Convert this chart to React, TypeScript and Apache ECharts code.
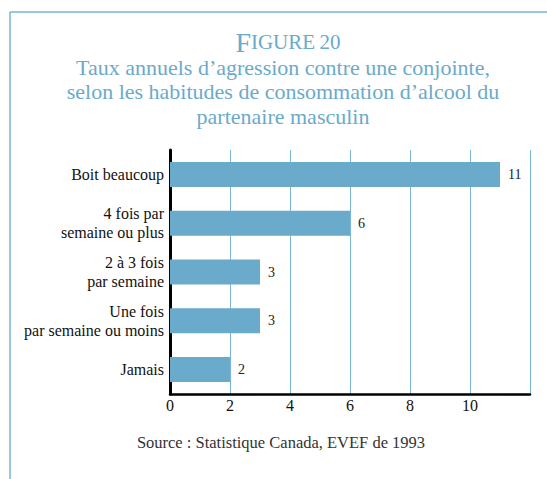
import React, { useEffect, useRef } from "react";
import * as echarts from "echarts";

const categories = [
  "Boit beaucoup",
  "4 fois par\nsemaine ou plus",
  "2 à 3 fois\npar semaine",
  "Une fois\npar semaine ou moins",
  "Jamais",
];
const values = [11, 6, 3, 3, 2];
const titleLines = [
  "Taux annuels d’agression contre une conjointe,",
  "selon les habitudes de consommation d’alcool du",
  "partenaire masculin",
];
const sourceText = "Source : Statistique Canada, EVEF de 1993";

const SERIF = "Liberation Serif, Times New Roman, serif";
const BLUE = "#6aaacb";
const LINE_BLUE = "#7ab4d6";

export default function App() {
  const ref = useRef<HTMLDivElement>(null);
  useEffect(() => {
    if (!ref.current) return;
    const chart = echarts.init(ref.current, null, { renderer: "svg" });
    chart.setOption({
      animation: false,
      backgroundColor: "#ffffff",
      textStyle: { fontFamily: SERIF },
      title: {
        left: 283,
        top: 23,
        textAlign: "center",
        text: "{a|F}{b|IGURE} {c|20}",
        textStyle: {
          fontFamily: SERIF,
          fontWeight: "normal",
          rich: {
            a: { fontFamily: SERIF, fontWeight: "normal", fontSize: 28, color: "#6aaacb" },
            b: { fontFamily: SERIF, fontWeight: "normal", fontSize: 21, color: "#6aaacb" },
            c: { fontFamily: SERIF, fontWeight: "normal", fontSize: 21, color: "#6aaacb" },
          },
        },
      },
      graphic: [
        {
          type: "line",
          shape: { x1: 10, y1: 12, x2: 547, y2: 12 },
          style: { stroke: LINE_BLUE, lineWidth: 1.5 },
        },
        {
          type: "line",
          shape: { x1: 10, y1: 12, x2: 10, y2: 479 },
          style: { stroke: LINE_BLUE, lineWidth: 1.5 },
        },
        {
          type: "text",
          x: 283,
          y: 55,
          style: {
            text: titleLines.join("\n"),
            align: "center",
            verticalAlign: "top",
            fontFamily: SERIF,
            fontSize: 22,
            lineHeight: 24.5,
            fill: "#6aaacb",
          },
        },
        {
          type: "text",
          x: 281,
          y: 442,
          style: {
            text: sourceText,
            align: "center",
            verticalAlign: "middle",
            fontFamily: SERIF,
            fontSize: 16.5,
            fill: "#333333",
          },
        },
      ],
      grid: { left: 170, top: 150, width: 360, height: 244, containLabel: false },
      xAxis: {
        type: "value",
        min: 0,
        max: 12,
        interval: 2,
        axisLine: { show: true, lineStyle: { color: "#000000", width: 2.5 } },
        axisTick: { show: false },
        splitLine: { show: true, lineStyle: { color: LINE_BLUE, width: 1 } },
        axisLabel: {
          margin: 3,
          fontFamily: SERIF,
          fontSize: 16,
          color: "#111111",
          formatter: (v: number) => (v === 12 ? "" : String(v)),
        },
      },
      yAxis: {
        type: "category",
        data: categories,
        inverse: true,
        axisLine: { show: true, lineStyle: { color: "#000000", width: 3 } },
        axisTick: { show: false },
        splitLine: { show: false },
        axisLabel: {
          margin: 6,
          fontFamily: SERIF,
          fontSize: 16,
          lineHeight: 19.5,
          color: "#111111",
          align: "right",
        },
      },
      series: [
        {
          type: "bar",
          data: values,
          barWidth: 25,
          itemStyle: { color: BLUE },
          label: {
            show: true,
            position: "right",
            distance: 8,
            fontFamily: SERIF,
            fontSize: 14,
            color: "#222222",
          },
        },
      ],
    });
    return () => chart.dispose();
  }, []);
  return (
    <div
      ref={ref}
      style={{ position: "fixed", left: 0, top: 0, width: 547, height: 479 }}
    />
  );
}
